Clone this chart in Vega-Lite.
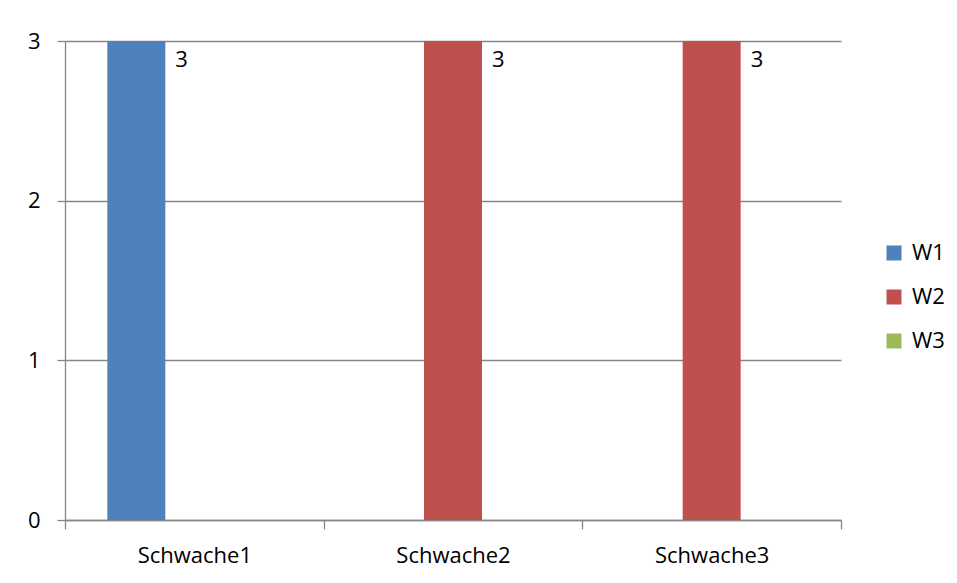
{
  "$schema": "https://vega.github.io/schema/vega-lite/v6.json",
  "width": 776,
  "height": 479,
  "autosize": {"type": "none"},
  "padding": {"left": 65, "top": 41, "right": 116, "bottom": 63},
  "background": "white",
  "config": {
    "font": "Open Sans",
    "view": {"stroke": null},
    "axis": {
      "labelFont": "Open Sans",
      "labelFontSize": 22,
      "labelColor": "#000000",
      "domainColor": "#868686",
      "tickColor": "#868686",
      "gridColor": "#868686",
      "domainWidth": 1.3,
      "tickWidth": 1.3,
      "gridWidth": 1.3,
      "title": null
    },
    "legend": {
      "labelFont": "Open Sans",
      "labelFontSize": 22,
      "labelColor": "#000000"
    }
  },
  "data": {
    "values": [
      {"kategorie": "Schwache1", "reihe": "W1", "wert": 3},
      {"kategorie": "Schwache2", "reihe": "W2", "wert": 3},
      {"kategorie": "Schwache3", "reihe": "W2", "wert": 3}
    ]
  },
  "encoding": {
    "x": {
      "field": "kategorie",
      "type": "nominal",
      "sort": ["Schwache1", "Schwache2", "Schwache3"],
      "scale": {"paddingInner": 0, "paddingOuter": 0},
      "axis": {
        "labelAngle": 0,
        "tickBand": "extent",
        "tickSize": 9,
        "labelPadding": 16,
        "labelBaseline": "top",
        "grid": false
      }
    },
    "xOffset": {
      "field": "reihe",
      "type": "nominal",
      "scale": {"domain": ["W1", "W2", "W3"], "paddingInner": 0, "paddingOuter": 0.73}
    },
    "y": {
      "field": "wert",
      "type": "quantitative",
      "scale": {"domain": [0, 3], "nice": false},
      "axis": {
        "values": [0, 1, 2, 3],
        "grid": true,
        "tickSize": 8,
        "labelPadding": 17,
        "format": "d"
      }
    }
  },
  "layer": [
    {
      "mark": {"type": "bar"},
      "encoding": {
        "color": {
          "field": "reihe",
          "type": "nominal",
          "scale": {"domain": ["W1", "W2", "W3"], "range": ["#4F81BD", "#C0504D", "#9BBB59"]},
          "legend": {
            "title": null,
            "orient": "none",
            "legendX": 818,
            "legendY": 201,
            "symbolType": "square",
            "symbolSize": 225,
            "symbolStrokeWidth": 0,
            "labelOffset": 7,
            "rowPadding": 22,
            "padding": 0
          }
        }
      }
    },
    {
      "mark": {
        "type": "text",
        "align": "left",
        "baseline": "middle",
        "dx": 39,
        "dy": 19,
        "fontSize": 22,
        "font": "Open Sans",
        "color": "#000000"
      },
      "encoding": {
        "text": {"field": "wert", "type": "quantitative"}
      }
    }
  ]
}
